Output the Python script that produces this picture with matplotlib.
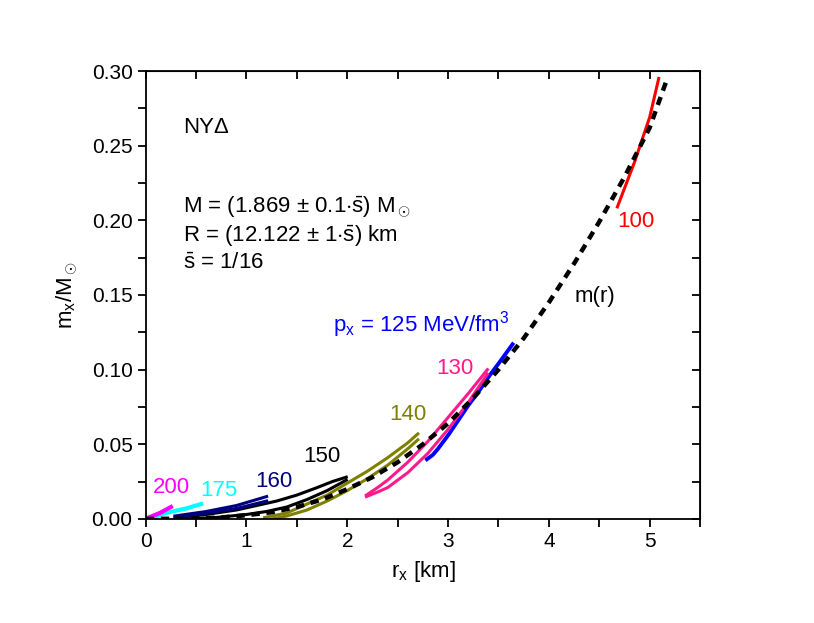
import numpy as np
import matplotlib.pyplot as plt
from matplotlib.ticker import MultipleLocator

plt.rcParams['font.family'] = ['Liberation Sans', 'DejaVu Sans']
plt.rcParams['mathtext.fontset'] = 'custom'
plt.rcParams['mathtext.rm'] = 'Liberation Sans'
plt.rcParams['mathtext.it'] = 'Liberation Sans:italic'

# m(r) of the star
r_m = [0, 0.5, 0.75, 1.0, 1.25, 1.5, 1.75, 2.0, 2.25, 2.5, 2.75, 3.0, 3.25, 3.5,
       3.75, 4.0, 4.25, 4.5, 4.75, 5.0, 5.18]
m_m = [0, 0.0003, 0.001, 0.0025, 0.0045, 0.008, 0.013, 0.020, 0.028, 0.038, 0.050,
       0.064, 0.081, 0.100, 0.121, 0.145, 0.171, 0.199, 0.229, 0.262, 0.296]

# curves per p_x (MeV/fm^3); most come as two branches
r_100 = [4.68, 4.85, 5.0, 5.09]
m_100 = [0.209, 0.239, 0.269, 0.295]

r_125 = [2.79, 2.85, 2.9, 3.0, 3.1, 3.2, 3.3, 3.4, 3.5, 3.64]
m_125 = [0.040, 0.043, 0.047, 0.056, 0.066, 0.076, 0.085, 0.095, 0.104, 0.117]

r_130_up = [2.19, 2.3, 2.4, 2.6, 2.8, 3.0, 3.2, 3.39]
m_130_up = [0.016, 0.021, 0.026, 0.038, 0.052, 0.068, 0.084, 0.100]
r_130_lo = [2.19, 2.3, 2.4, 2.6, 2.8, 3.0, 3.2, 3.39]
m_130_lo = [0.015, 0.018, 0.021, 0.031, 0.044, 0.060, 0.078, 0.097]

r_140_up = [1.18, 1.4, 1.6, 1.8, 2.0, 2.2, 2.4, 2.6, 2.70]
m_140_up = [0.001, 0.004, 0.010, 0.016, 0.024, 0.032, 0.041, 0.051, 0.057]
r_140_lo = [1.25, 1.4, 1.6, 1.8, 2.0, 2.2, 2.4, 2.6, 2.70]
m_140_lo = [0.000, 0.002, 0.006, 0.012, 0.019, 0.027, 0.036, 0.047, 0.053]

r_150_up = [0.3, 0.6, 0.9, 1.1, 1.3, 1.5, 1.7, 1.85, 1.99]
m_150_up = [0.001, 0.003, 0.006, 0.009, 0.012, 0.016, 0.021, 0.025, 0.028]
r_150_lo = [0.4, 0.7, 1.0, 1.2, 1.4, 1.6, 1.8, 1.99]
m_150_lo = [0.000, 0.001, 0.003, 0.005, 0.008, 0.013, 0.019, 0.026]

r_160_up = [0.29, 0.6, 0.9, 1.20]
m_160_up = [0.002, 0.005, 0.009, 0.015]
r_160_lo = [0.29, 0.6, 0.9, 1.20]
m_160_lo = [0.001, 0.004, 0.007, 0.012]

r_175 = [0.03, 0.2, 0.4, 0.55]
m_175 = [0.000, 0.004, 0.007, 0.010]

r_200 = [0.03, 0.14, 0.25]
m_200 = [0.001, 0.004, 0.008]

RED, BLUE, PINK, OLIVE = '#ff0000', '#0000ff', '#ff1a8c', '#808000'
NAVY, CYAN, MAGENTA = '#000080', '#00ffff', '#ff00ff'

fig = plt.figure(figsize=(8.14, 6.23), dpi=100)
ax = fig.add_axes([0.179, 0.167, 0.681, 0.719])

lw = 2.2
ax.plot(r_100, m_100, color=RED, lw=lw)
ax.plot(r_125, m_125, color=BLUE, lw=lw + 0.6)
ax.plot(r_130_up, m_130_up, color=PINK, lw=lw)
ax.plot(r_130_lo, m_130_lo, color=PINK, lw=lw)
ax.plot(r_140_up, m_140_up, color=OLIVE, lw=lw)
ax.plot(r_140_lo, m_140_lo, color=OLIVE, lw=lw)
ax.plot(r_150_up, m_150_up, color='black', lw=lw)
ax.plot(r_150_lo, m_150_lo, color='black', lw=lw)
ax.plot(r_160_up, m_160_up, color=NAVY, lw=lw)
ax.plot(r_160_lo, m_160_lo, color=NAVY, lw=lw)
ax.plot(r_175, m_175, color=CYAN, lw=lw + 0.8)
ax.plot(r_200, m_200, color=MAGENTA, lw=lw + 0.8)
ax.plot(r_m, m_m, color='black', lw=3.2, ls=(0, (1.9, 1.5)))

fs = 16
ax.text(0.26, 0.021, '200', color=MAGENTA, fontsize=fs, ha='center', va='center')
ax.text(0.73, 0.019, '175', color=CYAN, fontsize=fs, ha='center', va='center')
ax.text(1.27, 0.025, '160', color=NAVY, fontsize=fs, ha='center', va='center')
ax.text(1.75, 0.042, '150', color='black', fontsize=fs, ha='center', va='center')
ax.text(2.60, 0.070, '140', color=OLIVE, fontsize=fs, ha='center', va='center')
ax.text(3.07, 0.101, '130', color=PINK, fontsize=fs, ha='center', va='center')
ax.text(1.86, 0.130, 'p$_\\mathrm{x}$ = 125 MeV/fm$^\\mathrm{3}$', color=BLUE,
        fontsize=fs, ha='left', va='center')
ax.text(4.46, 0.149, 'm(r)', color='black', fontsize=fs, ha='center', va='center')
ax.text(4.86, 0.199, '100', color=RED, fontsize=fs, ha='center', va='center')

ax.text(0.37, 0.262, 'NYΔ', fontsize=fs, ha='left', va='center')
ax.text(0.37, 0.209, 'M = (1.869 ± 0.1$\\cdot\\bar{\\mathrm{s}}$) M$_\\odot$', fontsize=fs,
        ha='left', va='center')
ax.text(0.37, 0.189, 'R = (12.122 ± 1$\\cdot\\bar{\\mathrm{s}}$) km', fontsize=fs,
        ha='left', va='center')
ax.text(0.37, 0.171, '$\\bar{\\mathrm{s}}$ = 1/16', fontsize=fs, ha='left', va='center')

ax.set_xlim(0, 5.5)
ax.set_ylim(0, 0.30)
ax.xaxis.set_major_locator(MultipleLocator(1))
ax.xaxis.set_minor_locator(MultipleLocator(0.5))
ax.yaxis.set_major_locator(MultipleLocator(0.05))
ax.yaxis.set_minor_locator(MultipleLocator(0.025))
ax.yaxis.set_major_formatter(lambda v, p: f'{v:.2f}')
ax.tick_params(which='both', direction='out', length=6, width=1.3, labelsize=15,
               top=False, right=False)
for sp in ax.spines.values():
    sp.set_linewidth(1.3)

# inward ticks on top and right
axt = ax.secondary_xaxis('top')
axt.xaxis.set_major_locator(MultipleLocator(0.5))
axt.tick_params(direction='in', length=6, width=1.3, labeltop=False)
axr = ax.secondary_yaxis('right')
axr.yaxis.set_major_locator(MultipleLocator(0.025))
axr.tick_params(direction='in', length=6, width=1.3, labelright=False)

ax.set_xlabel('r$_\\mathrm{x}$ [km]', fontsize=16, labelpad=6)
ax.set_ylabel('m$_\\mathrm{x}$/M$_\\odot$', fontsize=16, labelpad=8)

fig.savefig('out.png', dpi=100)
